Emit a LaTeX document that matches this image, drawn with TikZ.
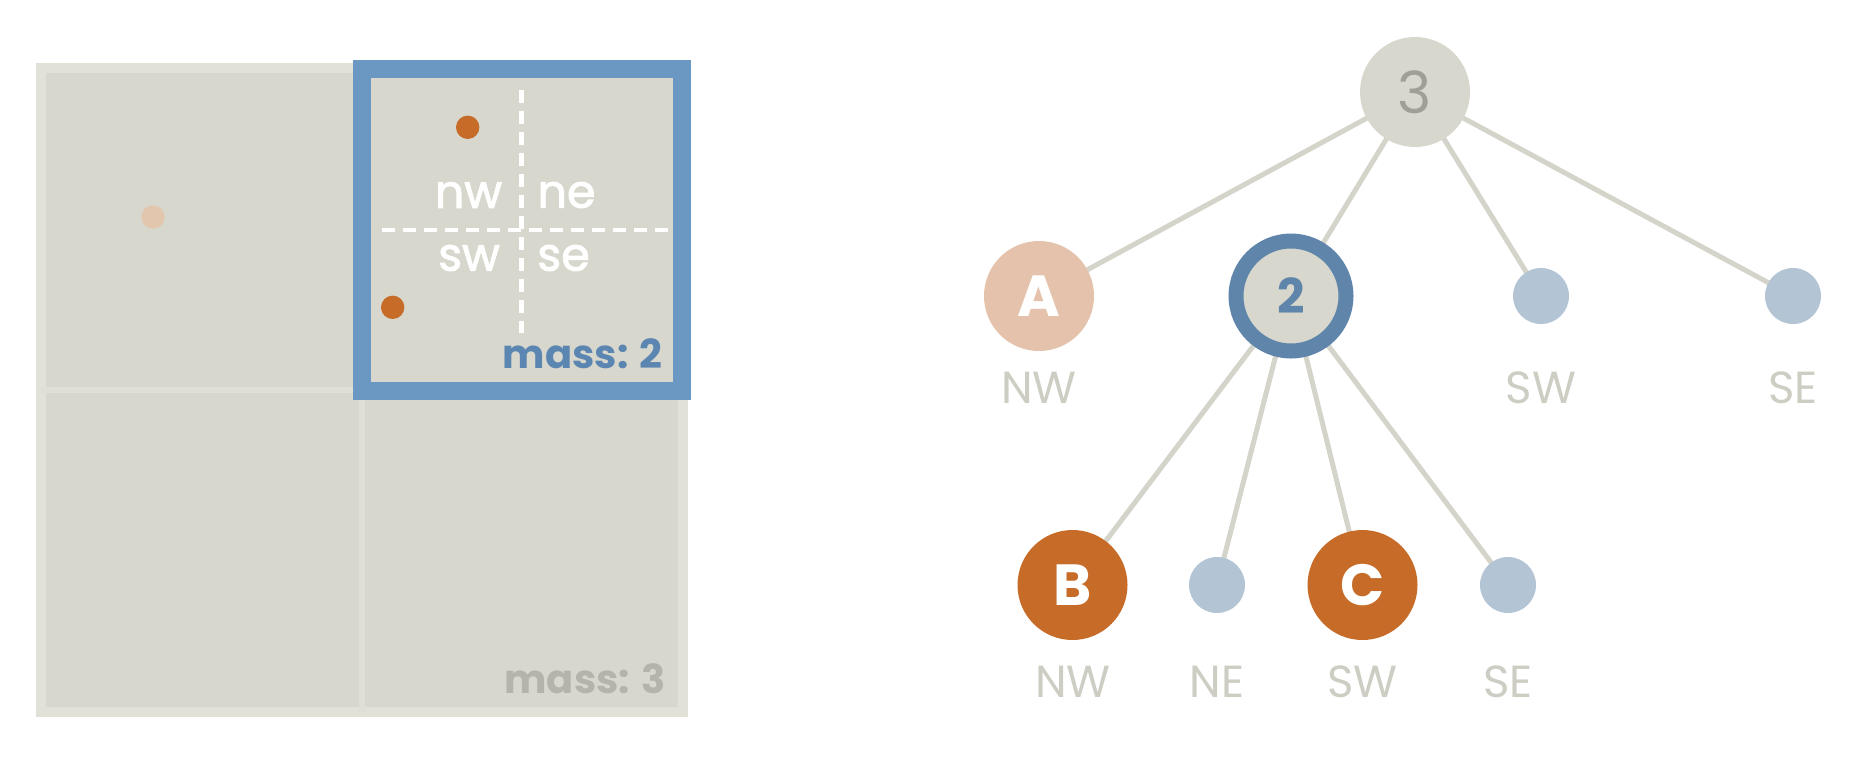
\documentclass[tikz,border=0pt]{standalone}
\usepackage{fontspec}
\setmainfont{Poppins}
\newfontfamily\popsemi{Poppins}[FakeBold=2]
\usetikzlibrary{backgrounds}
\definecolor{quadfill}{HTML}{D7D7CD}
\definecolor{quadframe}{HTML}{E1E1D8}
\definecolor{gridline}{HTML}{DFDFD5}
\definecolor{boxblue}{HTML}{6B97C3}
\definecolor{massblue}{HTML}{5B86B1}
\definecolor{massgray}{HTML}{B4B4AC}
\definecolor{dotorange}{HTML}{C66C28}
\definecolor{dotfaded}{HTML}{E2C6AD}
\definecolor{nodeA}{HTML}{E5C2AB}
\definecolor{ringblue}{HTML}{5F85AB}
\definecolor{leafblue}{HTML}{B3C4D5}
\definecolor{labgray}{HTML}{CDCDC3}
\definecolor{rootgray}{HTML}{9F9F97}
\definecolor{edgegray}{HTML}{D4D4CA}
\begin{document}
\begin{tikzpicture}[x=0.5pt,y=-0.5pt,
  bignode/.style={circle,inner sep=0pt,minimum size=55pt,font=\fontsize{29}{31}\selectfont\bfseries,text=white},
  smallnode/.style={circle,inner sep=0pt,minimum size=28pt,fill=leafblue},
  lab/.style={text=labgray,font=\fontsize{22.5}{24}\selectfont,inner sep=0pt},
  quadlab/.style={text=white,font=\fontsize{23}{25}\selectfont\popsemi,inner sep=0pt},
  masslab/.style={anchor=base east,inner sep=0pt,font=\fontsize{20}{22}\selectfont\bfseries},
  edge/.style={draw=edgegray,line width=2.5pt},
  dot/.style={circle,inner sep=0pt,minimum size=11.7pt}]
\useasboundingbox (0,0) rectangle (1858,772);
% ---------- quadtree square ----------
\draw[fill=quadfill,draw=quadframe,line width=5pt] (41,68) rectangle (683,712);
\draw[gridline,line width=3pt] (362,68) -- (362,712);
\draw[gridline,line width=3pt] (41,390) -- (683,390);
\draw[boxblue,line width=9pt] (362,69) rectangle (682,391);
\draw[white,line width=2.2pt,dash pattern=on 6.5pt off 4pt] (521.5,90) -- (521.5,333);
\draw[white,line width=2.2pt,dash pattern=on 6.5pt off 4pt] (382,230) -- (673,230);
\node[dot,fill=dotorange] (pB) at (467.7,127.3) {};
\node[dot,fill=dotorange] (pC) at (392.7,307.3) {};
\node[dot,fill=dotfaded] (pA) at (153,217) {};
\node[quadlab] (qnw) at (468.5,195) {nw};
\node[quadlab] (qne) at (566.5,195) {ne};
\node[quadlab] (qsw) at (469,258) {sw};
\node[quadlab] (qse) at (563.5,258) {se};
\node[masslab,text=massblue] (m2) at (663,368) {mass: 2};
\node[masslab,text=massgray] (m3) at (666,693) {mass: 3};
% ---------- tree ----------
\node[bignode,fill=quadfill,text=rootgray,font=\fontsize{29}{31}\selectfont] (root) at (1415,92) {3};
\node[bignode,fill=nodeA] (A) at (1039,296) {A};
\node[circle,inner sep=0pt,minimum size=55pt,fill=quadfill,draw=ringblue,line width=7.5pt,text=ringblue,font=\fontsize{24}{26}\selectfont\bfseries] (two) at (1291,296) {2};
\node[smallnode] (sw1) at (1541,296) {};
\node[smallnode] (se1) at (1793,296) {};
\node[bignode,fill=dotorange] (B) at (1072.5,585) {B};
\node[smallnode] (ne2) at (1217,585) {};
\node[bignode,fill=dotorange] (C) at (1362.5,585) {C};
\node[smallnode] (se2) at (1508,585) {};
\node[lab] (lnw1) at (1039,388) {NW};
\node[lab] (lsw1) at (1541,388) {SW};
\node[lab] (lse1) at (1793,388) {SE};
\node[lab] (lnw2) at (1073,682) {NW};
\node[lab] (lne2) at (1217,682) {NE};
\node[lab] (lsw2) at (1362.5,682) {SW};
\node[lab] (lse2) at (1508,682) {SE};
\begin{scope}[on background layer]
\draw[edge] (root.center) -- (A.center);
\draw[edge] (root.center) -- (two.center);
\draw[edge] (root.center) -- (sw1.center);
\draw[edge] (root.center) -- (se1.center);
\draw[edge] (two.center) -- (B.center);
\draw[edge] (two.center) -- (ne2.center);
\draw[edge] (two.center) -- (C.center);
\draw[edge] (two.center) -- (se2.center);
\end{scope}
\end{tikzpicture}
\end{document}
